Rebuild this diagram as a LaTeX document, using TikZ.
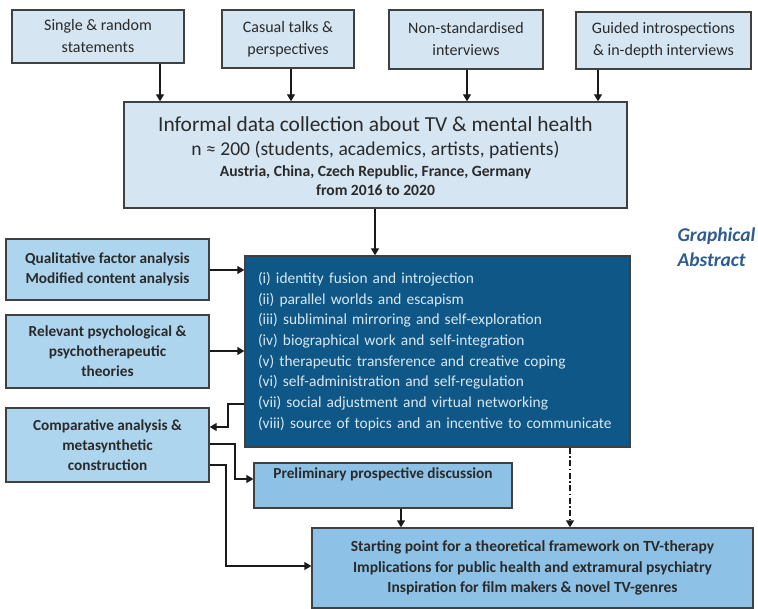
\documentclass[tikz,border=0pt]{standalone}
\usepackage{fontspec}
\setmainfont{Carlito}
\usetikzlibrary{arrows.meta}
\definecolor{paleblue}{HTML}{D5E5F2}
\definecolor{midblue}{HTML}{AED5EE}
\definecolor{skyblue}{HTML}{8DC2E6}
\definecolor{deepblue}{HTML}{0E5786}
\definecolor{lighttext}{HTML}{D8E8F2}
\definecolor{frame}{HTML}{404040}
\definecolor{titleblue}{HTML}{2F5B8F}
\definecolor{ink}{HTML}{1A1A1A}
\definecolor{boxtext}{HTML}{2A2A2A}
\tikzset{
  box/.style={draw=frame, line width=1.4pt, inner sep=0pt, align=center, text=boxtext},
  topbox/.style={box, fill=paleblue, font=\fontsize{16}{22}\selectfont},
  sidebox/.style={box, fill=midblue, font=\fontsize{15.3}{20}\selectfont\bfseries},
  resultbox/.style={box, fill=skyblue, font=\fontsize{15.5}{20.5}\selectfont\bfseries},
  arr/.style={draw=ink, line width=1.4pt, -{Triangle[width=8pt,length=7pt]}},
}
\begin{document}
\begin{tikzpicture}[x=1pt,y=-1pt]
\useasboundingbox (0,0) rectangle (758,609);

% sources of informal data
\node[topbox, minimum width=172, minimum height=53] (src1) at (98,36.5) {Single \& random\\statements};
\node[topbox, minimum width=132, minimum height=58] (src2) at (288,39) {Casual talks \&\\perspectives};
\node[topbox, minimum width=154, minimum height=59] (src3) at (466,39.5) {Non-standardised\\interviews};
\node[topbox, minimum width=175, minimum height=57] (src4) at (663.5,40.5) {Guided introspections\\\& in-depth interviews};

% data collection
\node[box, fill=paleblue, minimum width=503, minimum height=106] (collect) at (375.5,155) {};
\node[text=boxtext, font=\fontsize{21.4}{24}\selectfont] (colA) at (375.5,124) {Informal data collection about TV \& mental health};
\node[text=boxtext, font=\fontsize{19.6}{22}\selectfont] (colB) at (375.5,150) {n ≈ 200 (students, academics, artists, patients)};
\node[text=boxtext, font=\fontsize{15.6}{17}\selectfont\bfseries] (colC) at (375.5,172) {Austria, China, Czech Republic, France, Germany};
\node[text=boxtext, font=\fontsize{15.6}{17}\selectfont\bfseries] (colD) at (375.5,190) {from 2016 to 2020};

% functions of TV
\node[box, fill=deepblue, text=lighttext, minimum width=385, minimum height=191,
      text width=359, align=left, font=\fontsize{15.4}{20.7}\selectfont] (func) at (437.5,351.5)
 {(i) identity fusion and introjection\\
  (ii) parallel worlds and escapism\\
  (iii) subliminal mirroring and self-exploration\\
  (iv) biographical work and self-integration\\
  (v) therapeutic transference and creative coping\\
  (vi) self-administration and self-regulation\\
  (vii) social adjustment and virtual networking\\
  (viii) source of topics and an incentive to communicate};

% methods
\node[sidebox, minimum width=203, minimum height=61] (qual) at (107.5,269.5) {Qualitative factor analysis\\Modified content analysis};
\node[sidebox, minimum width=203, minimum height=73] (theo) at (107.5,351.5) {Relevant psychological \&\\psychotherapeutic\\theories};
\node[sidebox, minimum width=203, minimum height=74] (comp) at (107.5,445) {Comparative analysis \&\\metasynthetic\\construction};

% outcomes
\node[resultbox, font=\fontsize{15.3}{20.5}\selectfont\bfseries, minimum width=258, minimum height=45] (prelim) at (383,485.5) {Preliminary prospective discussion\\[4pt]};
\node[resultbox, minimum width=441, minimum height=80] (start) at (532.5,568)
 {Starting point for a theoretical framework on TV-therapy\\
  Implications for public health and extramural psychiatry\\
  Inspiration for film makers \& novel TV-genres};

\node[text=titleblue, align=left, font=\fontsize{19.5}{25}\selectfont\bfseries\itshape, anchor=north west] (title) at (674,224) {Graphical\\Abstract};

% helper coordinates for connector routes
\coordinate (c1) at (160,0);
\coordinate (c2) at (291,0);
\coordinate (c3) at (467,0);
\coordinate (c4) at (598,0);
\coordinate (c5) at (375,0);
\coordinate (c6) at (401,0);
\coordinate (c7) at (570,0);
\coordinate (q1) at (0,270);
\coordinate (q2) at (0,351);
\coordinate (k1) at (228,404);
\coordinate (k2) at (0,427);
\coordinate (k3) at (235,444);
\coordinate (k4) at (0,479);
\coordinate (k5) at (226,465);
\coordinate (k6) at (0,566);

\draw[arr] (src1.south -| c1) -- (collect.north -| c1);
\draw[arr] (src2.south -| c2) -- (collect.north -| c2);
\draw[arr] (src3.south -| c3) -- (collect.north -| c3);
\draw[arr] (src4.south -| c4) -- (collect.north -| c4);
\draw[arr] (collect.south -| c5) -- (func.north -| c5);
\draw[arr] (qual.east |- q1) -- (func.west |- q1);
\draw[arr] (theo.east |- q2) -- (func.west |- q2);
\draw[arr] (func.west |- k1) -- (k1) -- (k1 |- k2) -- (comp.east |- k2);
\draw[arr] (comp.east |- k3) -- (k3) -- (k3 |- k4) -- (prelim.west |- k4);
\draw[arr] (comp.east |- k5) -- (k5) -- (k5 |- k6) -- (start.west |- k6);
\draw[arr] (prelim.south -| c6) -- (start.north -| c6);
\draw[arr, dash pattern=on 6pt off 2.5pt on 1.5pt off 2.5pt] (func.south -| c7) -- (start.north -| c7);
\end{tikzpicture}
\end{document}
